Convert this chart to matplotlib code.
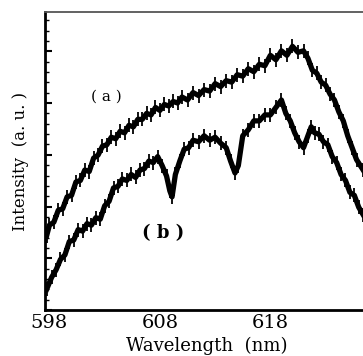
import matplotlib
matplotlib.use("Agg")
from matplotlib import pyplot as plt
from matplotlib.ticker import MultipleLocator

# spectrum (a): (wavelength nm, intensity a.u.)
curve_a = [
    (597.75, 0.25), (598.0, 0.285), (598.4, 0.295), (598.8, 0.335), (599.2, 0.34),
    (599.6, 0.38), (600.0, 0.385), (600.4, 0.43), (600.8, 0.435), (601.2, 0.47),
    (601.6, 0.465), (602.0, 0.51), (602.4, 0.52), (602.8, 0.55), (603.2, 0.555),
    (603.6, 0.58), (604.0, 0.575), (604.4, 0.60), (604.8, 0.595), (605.2, 0.62),
    (605.6, 0.615), (606.0, 0.64), (606.4, 0.64), (606.8, 0.66), (607.2, 0.655),
    (607.6, 0.68), (608.0, 0.67), (608.4, 0.69), (608.8, 0.685), (609.2, 0.70),
    (609.6, 0.695), (610.0, 0.715), (610.5, 0.705), (611.0, 0.73), (611.5, 0.72),
    (612.0, 0.74), (612.5, 0.735), (613.0, 0.76), (613.5, 0.75), (614.0, 0.77),
    (614.5, 0.765), (615.0, 0.79), (615.5, 0.785), (616.0, 0.81), (616.5, 0.80),
    (617.0, 0.825), (617.5, 0.82), (618.0, 0.855), (618.5, 0.84), (619.0, 0.87),
    (619.5, 0.855), (620.0, 0.885), (620.5, 0.865), (621.0, 0.87), (621.4, 0.845),
    (621.8, 0.805), (622.2, 0.795), (622.6, 0.765), (623.0, 0.755), (623.4, 0.725),
    (623.8, 0.705), (624.2, 0.665), (624.6, 0.635), (625.0, 0.585), (625.4, 0.545),
    (625.8, 0.505), (626.4, 0.47),
]

# spectrum (b)
curve_b = [
    (597.75, 0.07), (598.2, 0.11), (598.6, 0.135), (599.0, 0.17), (599.4, 0.185),
    (599.8, 0.23), (600.2, 0.235), (600.6, 0.27), (601.0, 0.265), (601.4, 0.29),
    (601.8, 0.285), (602.2, 0.31), (602.6, 0.305), (603.0, 0.35), (603.4, 0.365),
    (603.8, 0.41), (604.2, 0.415), (604.6, 0.44), (605.0, 0.435), (605.4, 0.455),
    (605.8, 0.445), (606.2, 0.47), (606.6, 0.475), (607.0, 0.50), (607.4, 0.495),
    (607.8, 0.515), (608.2, 0.485), (608.6, 0.45), (608.9, 0.40), (609.1, 0.38),
    (609.4, 0.455), (609.8, 0.50), (610.2, 0.54), (610.6, 0.545), (611.0, 0.57),
    (611.5, 0.565), (612.0, 0.585), (612.5, 0.57), (613.0, 0.58), (613.5, 0.56),
    (614.0, 0.545), (614.4, 0.50), (614.8, 0.46), (615.1, 0.485), (615.5, 0.585),
    (616.0, 0.605), (616.5, 0.635), (617.0, 0.635), (617.5, 0.655), (618.0, 0.655),
    (618.5, 0.68), (619.0, 0.705), (619.4, 0.66), (619.8, 0.635), (620.2, 0.595),
    (620.6, 0.565), (621.0, 0.545), (621.4, 0.585), (621.7, 0.615), (622.0, 0.595),
    (622.4, 0.59), (622.8, 0.565), (623.2, 0.555), (623.6, 0.515), (624.0, 0.495),
    (624.4, 0.455), (624.8, 0.435), (625.2, 0.395), (625.6, 0.385), (626.0, 0.345),
    (626.4, 0.32),
]

x_ticks = [598, 608, 618]

plt.rcParams['font.family'] = ['DejaVu Serif']

fig = plt.figure(figsize=(3.63, 3.56), dpi=100)
# right spine lies beyond the picture edge, as in the cropped original
ax = fig.add_axes([0.124, 0.129, 0.986, 0.837])

for curve in (curve_a, curve_b):
    xs = [p[0] for p in curve]
    ys = [p[1] for p in curve]
    # thick noisy trace: line plus short vertical strokes at each sample
    ax.plot(xs, ys, color='black', lw=3.8, solid_joinstyle='round')
    ax.plot(xs, ys, ls='none', marker='|', ms=10, mew=1.3, color='black')

ax.set_xlim(597.6, 630.0)
ax.set_ylim(0, 1)
ax.set_xticks(x_ticks)
ax.set_xticklabels([str(t) for t in x_ticks], fontsize=14)
ax.tick_params(axis='x', length=0, pad=3)

ax.yaxis.set_major_locator(MultipleLocator(0.1737))
ax.yaxis.set_minor_locator(MultipleLocator(0.1737 / 5))
ax.tick_params(axis='y', which='major', direction='in', length=5, width=1.5, labelleft=False)
ax.tick_params(axis='y', which='minor', direction='in', length=3, width=1.0)

ax.spines['left'].set_linewidth(2.0)
ax.spines['bottom'].set_linewidth(2.0)
ax.spines['top'].set_linewidth(1.3)
ax.spines['top'].set_color('#555555')

ax.set_xlabel('Wavelength  (nm)', fontsize=13, va='center')
ax.xaxis.set_label_coords(0.453, -0.12)
ax.set_ylabel('Intensity  (a. u. )', fontsize=12, labelpad=8)

ax.text(603.2, 0.715, '( a )', fontsize=11, ha='center', va='center')
ax.text(608.3, 0.257, '( b )', fontsize=13, fontweight='bold', ha='center', va='center')

fig.savefig('out.png', dpi=100)
